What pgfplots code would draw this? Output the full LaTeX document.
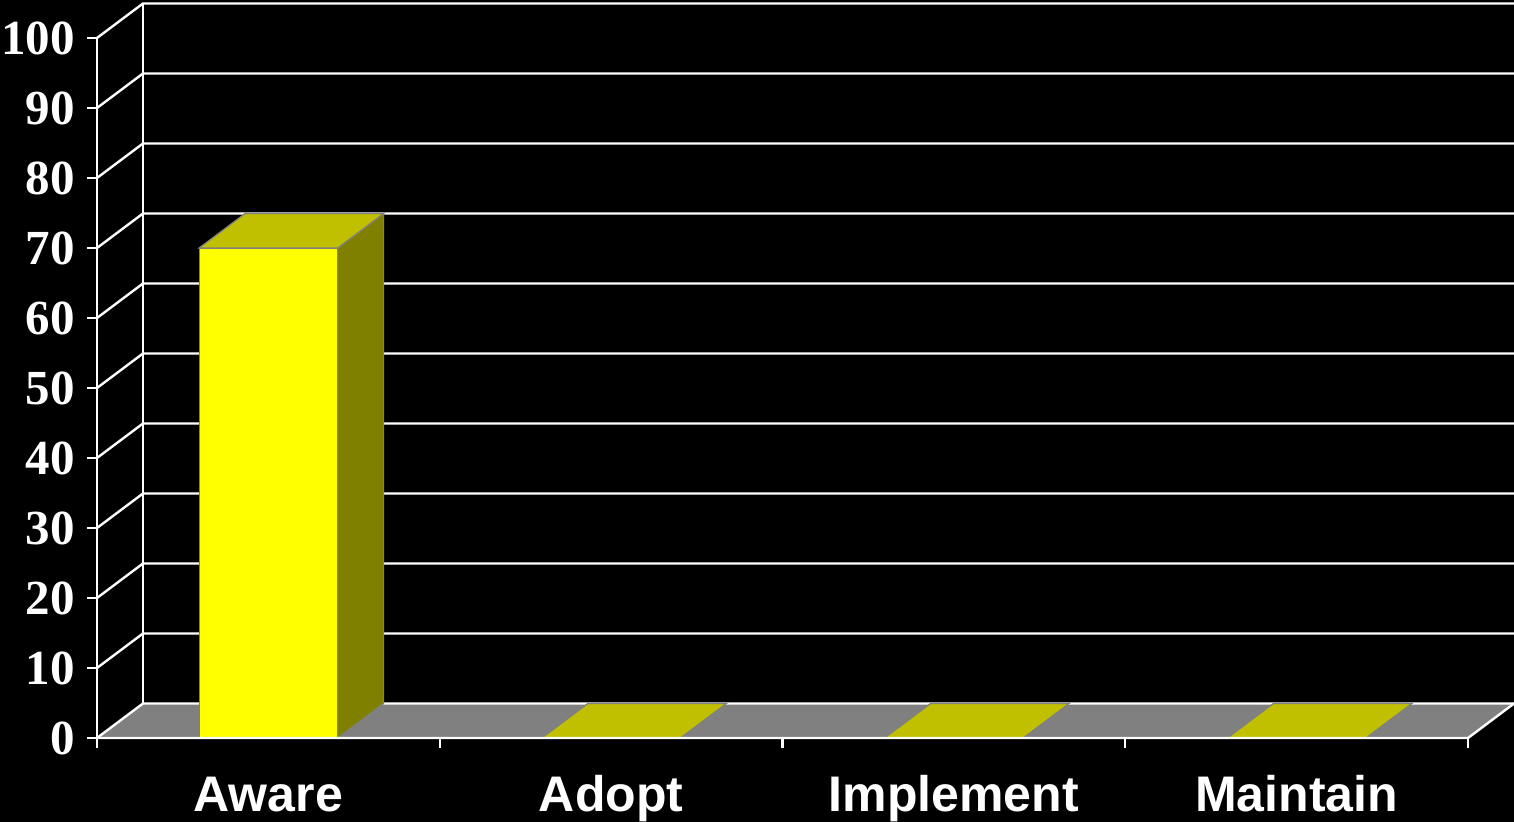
\documentclass[border=0pt]{standalone}
\usepackage{pgfplots}
\pgfplotsset{compat=1.18}
\usepackage{pgfplotstable}
\usepackage{fontspec}
\setmainfont{Liberation Serif}
\newfontfamily\catfont{Liberation Sans}
\definecolor{barfront}{HTML}{FFFF00}
\definecolor{bartop}{HTML}{C0C000}
\definecolor{barside}{HTML}{808000}
\definecolor{floorc}{HTML}{808080}
\definecolor{edgec}{HTML}{808080}
\pgfplotstableread{
x v
0.5 70
1.5 0
2.5 0
3.5 0
}\bardata
\begin{document}
\begin{tikzpicture}
\path[use as bounding box, fill=black] (0,0) rectangle (757pt,411pt);
\begin{axis}[
  at={(48.5pt,42pt)}, anchor=south west,
  scale only axis, width=708.5pt, height=367pt,
  xmin=0, xmax=4.1342, ymin=0, ymax=104.857,
  axis line style={draw=none},
  clip=false,
  tick pos=left,
  ytick={0,10,...,100},
  xtick={0,1,2,3,4}, xticklabels={,,,,},
  tick align=outside, major tick length=5pt,
  tick style={white, line width=1.1pt},
  /pgf/number format/assume math mode=true,
  yticklabel style={font=\bfseries\fontsize{24.5}{24.5}\selectfont, text=white, anchor=east, inner sep=0pt, xshift=-6pt},
  extra x ticks={0.5,1.5,2.5,3.5},
  extra x tick labels={Aware,Adopt,Implement,Maintain},
  extra x tick style={tick style={draw=none}, xticklabel style={font=\catfont\bfseries\fontsize{25}{25}\selectfont, text=white, anchor=base, inner sep=0pt, yshift=-32pt}},
]
% floor
\addplot[fill=floorc, draw=none] coordinates {(0,0)(4,0)(4.1342,4.93)(0.1342,4.93)} -- cycle;
% back wall
\draw[white, line width=1.2pt] (axis cs:0.1342,4.93) -- (axis cs:0.1342,104.93);
\draw[white, line width=1.2pt] (axis cs:0,0) -- (axis cs:0,100);
\draw[white, line width=1.2pt] (axis cs:0,0) -- (axis cs:0.1342,4.93) -- (axis cs:4.1342,4.93);
\pgfplotsinvokeforeach{10,20,...,100}{
  \draw[white, line width=1.2pt] (axis cs:0,#1) -- (axis cs:0.1342,#1+4.93) -- (axis cs:4.1342,#1+4.93);
}
% bars: front faces
\addplot[ybar, bar width=0.404, fill=barfront, draw=edgec, line width=0.6pt] table[x=x, y=v] {\bardata};
% side face of Aware
\addplot[fill=barside, draw=edgec, line width=0.6pt] coordinates {(0.702,0)(0.8362,4.93)(0.8362,74.93)(0.702,70)} -- cycle;
% top faces
\addplot[fill=bartop, draw=edgec, line width=0.6pt] coordinates {(0.298,70)(0.702,70)(0.8362,74.93)(0.4322,74.93)} -- cycle;
\addplot[fill=bartop, draw=edgec, line width=0.6pt] coordinates {(1.298,0)(1.702,0)(1.8362,4.93)(1.4322,4.93)} -- cycle;
\addplot[fill=bartop, draw=edgec, line width=0.6pt] coordinates {(2.298,0)(2.702,0)(2.8362,4.93)(2.4322,4.93)} -- cycle;
\addplot[fill=bartop, draw=edgec, line width=0.6pt] coordinates {(3.298,0)(3.702,0)(3.8362,4.93)(3.4322,4.93)} -- cycle;
% floor front edges
\draw[white, line width=1.2pt] (axis cs:0,0) -- (axis cs:4,0) -- (axis cs:4.1342,4.93);
\end{axis}
\end{tikzpicture}
\end{document}
